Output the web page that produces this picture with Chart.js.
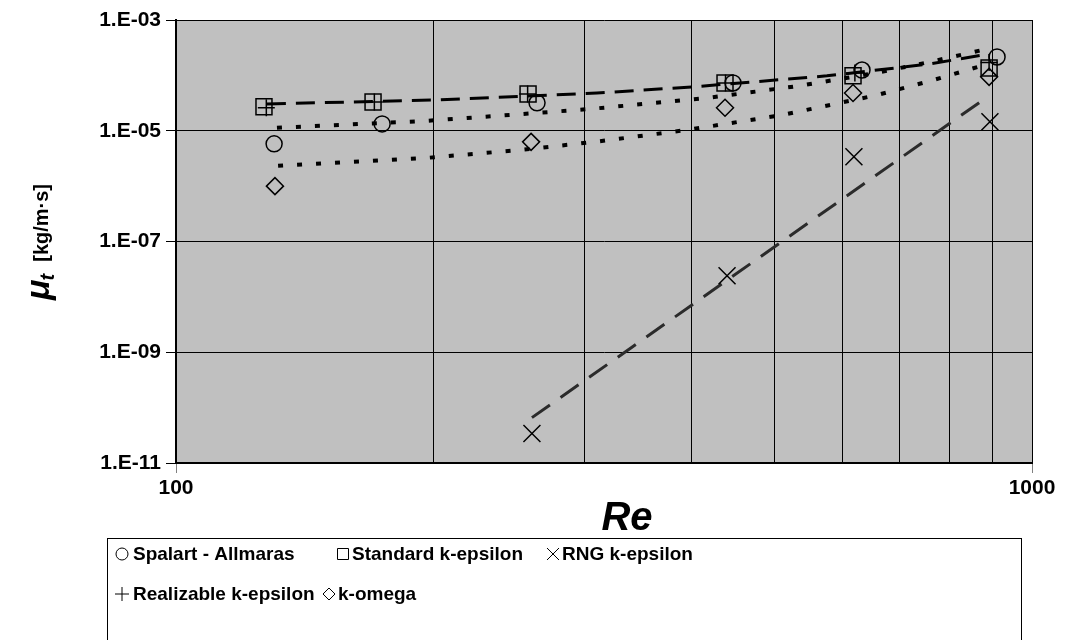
<!DOCTYPE html>
<html>
<head>
<meta charset="utf-8">
<script src="https://cdn.jsdelivr.net/npm/chart.js@4.4.1/dist/chart.umd.min.js"></script>
<style>
  html, body { margin: 0; padding: 0; background: #fff; }
  #wrap { width: 1068px; height: 640px; }
</style>
</head>
<body>
<div id="wrap"><canvas id="chart" width="1068" height="640"></canvas></div>
<script>
// turbulent viscosity vs Reynolds number, five turbulence models

const seriesNames = ["Spalart - Allmaras", "Standard k-epsilon", "RNG k-epsilon", "Realizable k-epsilon", "k-omega"];

const reSA = [130.2, 174.1, 264.1, 447.4, 633.0, 910.3];
const muSA = [5.8e-6, 1.33e-5, 3.2e-5, 7.3e-5, 1.25e-4, 2.15e-4];

const reStd = [126.7, 169.9, 257.8, 437.9, 617.9, 891.0];
const muStd = [2.7e-5, 3.3e-5, 4.6e-5, 7.3e-5, 9.8e-5, 1.36e-4];

const reRNG = [260.5, 440.3, 619.4, 893.0];
const muRNG = [3.4e-11, 2.4e-8, 3.4e-6, 1.45e-5];

const reReal = [127.5, 170.5, 257.5, 438.5, 621.0, 891.0];
const muReal = [2.6e-5, 3.3e-5, 4.6e-5, 7.3e-5, 1.1e-4, 1.7e-4];

const reKO = [130.5, 259.9, 437.9, 617.9, 891.0];
const muKO = [1.0e-6, 6.3e-6, 2.6e-5, 4.8e-5, 9.4e-5];

// trend lines
const trendKeRe = [127.7, 202.3, 310.3, 401.8, 576, 758, 886];
const trendKeMu = [3.05e-5, 3.6e-5, 4.8e-5, 6.2e-5, 9.8e-5, 1.6e-4, 2.4e-4];

const trendSARe = [131.2, 196.5, 264.8, 307, 417.2, 535.8, 655.5, 760, 886];
const trendSAMu = [1.13e-5, 1.51e-5, 2.1e-5, 2.5e-5, 3.9e-5, 6.5e-5, 1.1e-4, 1.75e-4, 3.0e-4];

const trendKORe = [131.6, 197, 252.3, 308.7, 396.4, 512, 659, 760, 881];
const trendKOMu = [2.33e-6, 3.25e-6, 4.5e-6, 6.3e-6, 1.04e-5, 1.94e-5, 4.4e-5, 7.9e-5, 1.55e-4];

const trendRNGRe = [260.5, 869.6];
const trendRNGMu = [6.6e-11, 3.3e-5];

const xTicks = [100, 200, 300, 400, 500, 600, 700, 800, 900, 1000];
const xTickLabels = ["100", "", "", "", "", "", "", "", "", "1000"];
const yTicks = [1e-11, 1e-9, 1e-7, 1e-5, 1e-3];
const yTickLabels = ["1.E-11", "1.E-09", "1.E-07", "1.E-05", "1.E-03"];

const FONT = "'Liberation Sans', Arial, sans-serif";

const pts = (xs, ys) => xs.map((x, i) => ({ x: x, y: ys[i] }));

function markerSet(label, xs, ys, style, radius) {
  return {
    label: label,
    data: pts(xs, ys),
    showLine: false,
    pointStyle: style,
    pointRadius: radius,
    pointHoverRadius: radius,
    pointBorderColor: "#000",
    pointBackgroundColor: "rgba(0,0,0,0)",
    pointBorderWidth: 1.5,
    borderColor: "#000",
    backgroundColor: "rgba(0,0,0,0)"
  };
}

function trendSet(xs, ys, dash, color, width) {
  return {
    label: "",
    data: pts(xs, ys),
    showLine: true,
    pointRadius: 0,
    pointHoverRadius: 0,
    borderColor: color,
    borderWidth: width,
    borderDash: dash,
    borderCapStyle: "butt",
    fill: false
  };
}

const datasets = [
  markerSet(seriesNames[0], reSA, muSA, "circle", 8),
  markerSet(seriesNames[1], reStd, muStd, "rect", 11.3),
  markerSet(seriesNames[2], reRNG, muRNG, "crossRot", 12),
  markerSet(seriesNames[3], reReal, muReal, "cross", 8.5),
  markerSet(seriesNames[4], reKO, muKO, "rectRot", 8.5),
  trendSet(trendKeRe, trendKeMu, [19, 10], "#000", 3),
  trendSet(trendSARe, trendSAMu, [5, 14], "#000", 4),
  trendSet(trendKORe, trendKOMu, [5, 14], "#000", 4),
  trendSet(trendRNGRe, trendRNGMu, [22, 13], "#2b2b2b", 3)
];

const plotBackground = {
  id: "plotBackground",
  beforeDraw(chart) {
    const { ctx, chartArea: a } = chart;
    ctx.save();
    ctx.fillStyle = "#fff";
    ctx.fillRect(0, 0, chart.width, chart.height);
    ctx.fillStyle = "#c0c0c0";
    ctx.fillRect(a.left, a.top, a.right - a.left, a.bottom - a.top);
    ctx.restore();
  }
};

function drawSymbol(ctx, style, x, y) {
  ctx.beginPath();
  if (style === "circle") {
    ctx.arc(x, y, 6, 0, Math.PI * 2);
  } else if (style === "rect") {
    ctx.rect(x - 5.5, y - 5.5, 11, 11);
  } else if (style === "crossRot") {
    ctx.moveTo(x - 6, y - 6); ctx.lineTo(x + 6, y + 6);
    ctx.moveTo(x + 6, y - 6); ctx.lineTo(x - 6, y + 6);
  } else if (style === "cross") {
    ctx.moveTo(x - 7, y); ctx.lineTo(x + 7, y);
    ctx.moveTo(x, y - 7); ctx.lineTo(x, y + 7);
  } else if (style === "rectRot") {
    ctx.moveTo(x - 6, y); ctx.lineTo(x, y - 6);
    ctx.lineTo(x + 6, y); ctx.lineTo(x, y + 6); ctx.closePath();
  }
  ctx.stroke();
}

const annotations = {
  id: "annotations",
  afterDraw(chart) {
    const ctx = chart.ctx;
    ctx.save();
    ctx.fillStyle = "#000";
    ctx.strokeStyle = "#000";

    // x title
    ctx.font = "italic bold 40px " + FONT;
    ctx.textAlign = "center";
    ctx.textBaseline = "alphabetic";
    ctx.fillText("Re", 627, 530);

    // y title, rotated, mu with subscript t
    ctx.save();
    ctx.translate(45, 242);
    ctx.rotate(-Math.PI / 2);
    ctx.textAlign = "left";
    const f1 = "italic bold 34px " + FONT;
    const f2 = "italic bold 20px " + FONT;
    const f3 = "bold 20px " + FONT;
    const s3 = "  [kg/m\u00b7s]";
    ctx.font = f1; const w1 = ctx.measureText("\u03bc").width;
    ctx.font = f2; const w2 = ctx.measureText("t").width;
    ctx.font = f3; const w3 = ctx.measureText(s3).width;
    let x = -(w1 + w2 + w3) / 2;
    ctx.font = f1; ctx.fillText("\u03bc", x, 4);
    ctx.font = f2; ctx.fillText("t", x + w1 - 1, 9);
    ctx.font = f3; ctx.fillText(s3, x + w1 + w2, 3);
    ctx.restore();

    // legend box
    ctx.lineWidth = 1;
    ctx.strokeRect(107.5, 538.5, 914, 110);
    const items = [
      { i: 0, sx: 122, tx: 133, y: 554 },
      { i: 1, sx: 343, tx: 352, y: 554 },
      { i: 2, sx: 553, tx: 562, y: 554 },
      { i: 3, sx: 122, tx: 133, y: 594 },
      { i: 4, sx: 329, tx: 338, y: 594 }
    ];
    ctx.font = "bold 19px " + FONT;
    ctx.textAlign = "left";
    ctx.textBaseline = "middle";
    items.forEach(it => {
      const ds = chart.data.datasets[it.i];
      ctx.lineWidth = 1;
      drawSymbol(ctx, ds.pointStyle, it.sx, it.y);
      ctx.fillText(ds.label, it.tx, it.y + 1);
    });
    ctx.restore();
  }
};

new Chart(document.getElementById("chart"), {
  type: "scatter",
  data: { datasets: datasets },
  options: {
    responsive: false,
    animation: false,
    events: [],
    layout: { padding: { top: 20, right: 36, left: 0, bottom: 0 } },
    plugins: { legend: { display: false }, tooltip: { enabled: false } },
    scales: {
      x: {
        type: "logarithmic",
        position: "bottom",
        min: 100,
        max: 1000,
        afterBuildTicks: s => { s.ticks = xTicks.map(v => ({ value: v })); },
        afterFit: s => { s.height = 177; },
        ticks: {
          autoSkip: false,
          maxRotation: 0,
          padding: 3,
          color: "#000",
          font: { family: FONT, size: 21, weight: "bold" },
          callback: (v, i) => xTickLabels[i]
        },
        grid: {
          color: "#000",
          lineWidth: 1,
          tickLength: 10,
          tickColor: c => (xTickLabels[c.index] ? "#808080" : "rgba(0,0,0,0)")
        },
        border: { color: "#000", width: 2 }
      },
      y: {
        type: "logarithmic",
        min: 1e-11,
        max: 1e-3,
        afterBuildTicks: s => { s.ticks = yTicks.map(v => ({ value: v })); },
        afterFit: s => { s.width = 176; },
        ticks: {
          autoSkip: false,
          padding: 5,
          color: "#000",
          font: { family: FONT, size: 21, weight: "bold" },
          callback: (v, i) => yTickLabels[i]
        },
        grid: { color: "#000", lineWidth: 1, tickLength: 10, tickColor: "#000" },
        border: { color: "#000", width: 2 }
      }
    }
  },
  plugins: [plotBackground, annotations]
});
</script>
</body>
</html>
